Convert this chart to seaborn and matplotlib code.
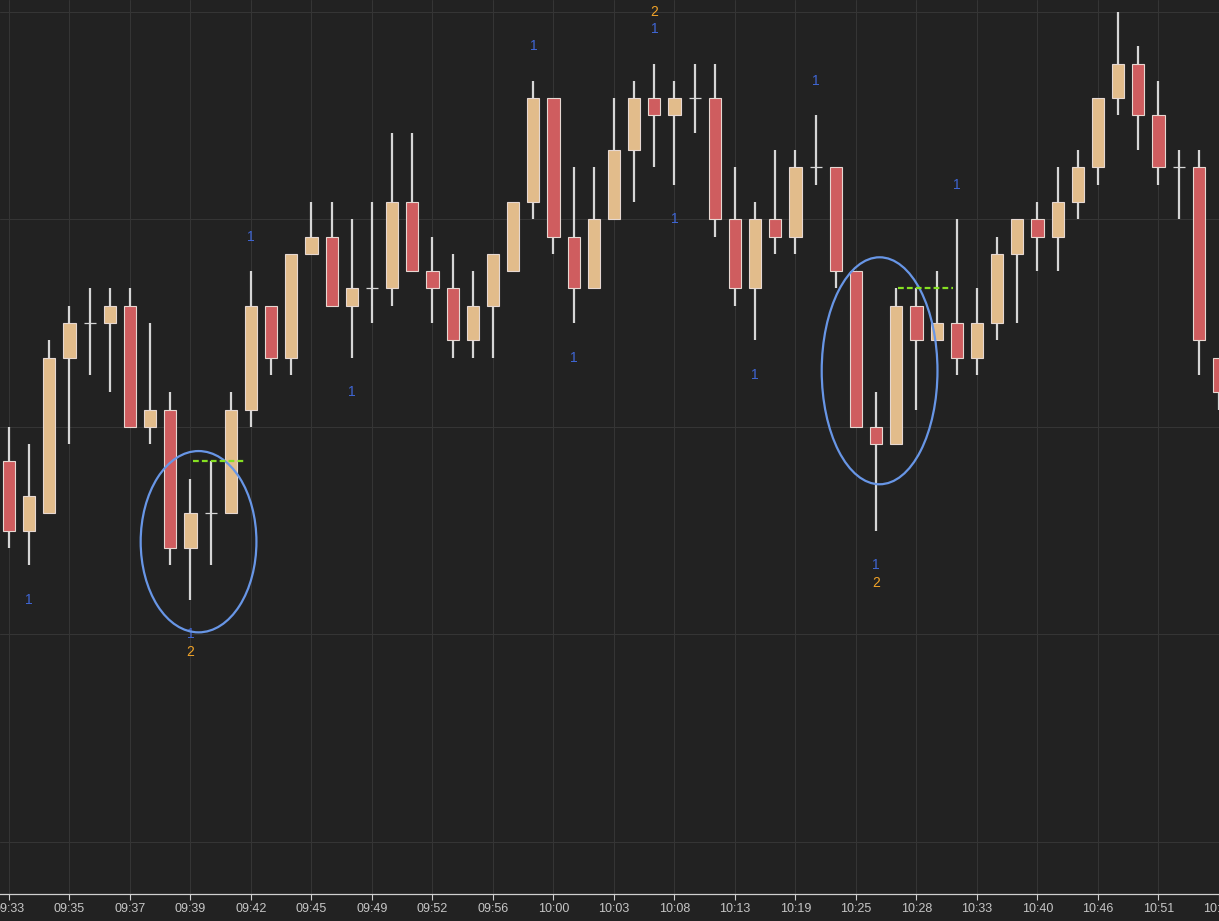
import numpy as np
import pandas as pd
import seaborn as sns
import matplotlib
matplotlib.use("Agg")
import matplotlib.pyplot as plt
from matplotlib.patches import Ellipse

# ---------------- data ----------------
opens = [4405.5, 4404.5, 4404.75, 4407.0, 4407.5, 4407.5, 4407.75, 4406.0, 4406.25, 4404.25,
         4404.75, 4404.75, 4406.25, 4407.75, 4407.0, 4408.5, 4408.75, 4407.75, 4408.0, 4408.0,
         4409.25, 4408.25, 4408.0, 4407.25, 4407.75, 4408.25, 4409.25, 4410.75, 4408.75, 4408.0,
         4409.0, 4410.0, 4410.75, 4410.5, 4410.75, 4410.75, 4409.0, 4408.0, 4409.0, 4408.75,
         4409.75, 4409.75, 4408.25, 4406.0, 4405.75, 4407.75, 4407.25, 4407.5, 4407.0, 4407.5,
         4408.5, 4409.0, 4408.75, 4409.25, 4409.75, 4410.75, 4411.25, 4410.5, 4409.75, 4409.75,
         4407.0]
highs = [4406.0, 4405.75, 4407.25, 4407.75, 4408.0, 4408.0, 4408.0, 4407.5, 4406.5, 4405.25,
         4405.5, 4406.5, 4408.25, 4407.75, 4408.5, 4409.25, 4409.25, 4409.0, 4409.25, 4410.25,
         4410.25, 4408.75, 4408.5, 4408.25, 4408.5, 4409.25, 4411.0, 4410.75, 4409.75, 4409.75,
         4410.75, 4411.0, 4411.25, 4411.0, 4411.25, 4411.25, 4409.75, 4409.25, 4410.0, 4410.0,
         4410.5, 4409.75, 4408.25, 4406.5, 4408.0, 4408.0, 4408.25, 4409.0, 4408.0, 4408.75,
         4409.0, 4409.25, 4409.75, 4410.0, 4410.75, 4412.0, 4411.5, 4411.0, 4410.0, 4410.0,
         4407.0]
lows = [4404.25, 4404.0, 4404.75, 4405.75, 4406.75, 4406.5, 4406.0, 4405.75, 4404.0, 4403.5,
        4404.0, 4404.75, 4406.0, 4406.75, 4406.75, 4408.5, 4407.75, 4407.0, 4407.5, 4407.75,
        4408.25, 4407.5, 4407.0, 4407.0, 4407.0, 4408.25, 4409.0, 4408.5, 4407.5, 4408.0,
        4409.0, 4409.25, 4409.75, 4409.5, 4410.25, 4408.75, 4407.75, 4407.25, 4408.5, 4408.5,
        4409.5, 4408.0, 4406.0, 4404.5, 4405.75, 4406.25, 4407.25, 4406.75, 4406.75, 4407.25,
        4407.5, 4408.25, 4408.25, 4409.0, 4409.5, 4410.5, 4410.0, 4409.5, 4409.0, 4406.75,
        4406.25]
closes = [4404.5, 4405.0, 4407.0, 4407.5, 4407.5, 4407.75, 4406.0, 4406.25, 4404.25, 4404.75,
          4404.75, 4406.25, 4407.75, 4407.0, 4408.5, 4408.75, 4407.75, 4408.0, 4408.0, 4409.25,
          4408.25, 4408.0, 4407.25, 4407.75, 4408.5, 4409.25, 4410.75, 4408.75, 4408.0, 4409.0,
          4410.0, 4410.75, 4410.5, 4410.75, 4410.75, 4409.0, 4408.0, 4409.0, 4408.75, 4409.75,
          4409.75, 4408.25, 4406.0, 4405.75, 4407.75, 4407.25, 4407.5, 4407.0, 4407.5, 4408.5,
          4409.0, 4408.75, 4409.25, 4409.75, 4410.75, 4411.25, 4410.5, 4409.75, 4409.75, 4407.25,
          4406.5]

tick_labels = ["09:33", "09:35", "09:37", "09:39", "09:42", "09:45", "09:49", "09:52", "09:56",
               "10:00", "10:03", "10:08", "10:13", "10:19", "10:25", "10:28", "10:33", "10:40",
               "10:46", "10:51", "10:55"]

# signal markers: bar index, text, price
sig_bar = [1, 9, 9, 12, 17, 26, 28, 32, 32, 33, 37, 40, 43, 43, 47]
sig_text = ["1", "1", "2", "1", "1", "1", "1", "1", "2", "1", "1", "1", "1", "2", "1"]
sig_price = [4403.5, 4403.0, 4402.75, 4408.75, 4406.5, 4411.5, 4407.0, 4411.75, 4412.0,
             4409.0, 4406.75, 4411.0, 4404.0, 4403.75, 4409.5]

# pattern highlights
ell_x = [9.4, 43.17]
ell_y = [4404.34, 4406.81]
ell_h = [2.62, 3.28]
lvl_x0 = [9.1, 44.1]
lvl_x1 = [11.7, 46.8]
lvl_price = [4405.5, 4408.0]

df = pd.DataFrame({"open": opens, "high": highs, "low": lows, "close": closes})
df["idx"] = np.arange(len(df))

# ---------------- style ----------------
BG = "#222222"
sns.set_theme(style="darkgrid", rc={
    "axes.facecolor": BG, "figure.facecolor": BG,
    "grid.color": "#353535", "grid.linewidth": 0.75,
    "axes.edgecolor": "#d0d0d0",
})
plt.rcParams["font.family"] = ["Liberation Sans", "DejaVu Sans"]

fig = plt.figure(figsize=(12.19, 9.21), dpi=100)
ax = fig.add_axes([0, 27 / 921, 1, 894 / 921])
ax.set_facecolor(BG)

UP = "#e2bc8b"
DN = "#cf5d5f"
EDGE = "#e6d8d2"
WICK = "#d6d6d6"
bw = 0.61

ax.vlines(df["idx"], df["low"], df["high"], color=WICK, lw=1.6, zorder=2)
body_lo = np.minimum(df["open"], df["close"])
body_hi = np.maximum(df["open"], df["close"])
hgt = body_hi - body_lo
is_doji = hgt == 0
is_up = df["close"] > df["open"]
colors = [UP if u else DN for u in is_up]
m = ~is_doji
ax.bar(df["idx"][m], hgt[m], bottom=body_lo[m], width=bw,
       color=[c for c, k in zip(colors, m) if k], edgecolor=EDGE, linewidth=0.8, zorder=3)
ax.hlines(df["close"][is_doji], df["idx"][is_doji] - bw / 2, df["idx"][is_doji] + bw / 2,
          color=WICK, lw=0.9, zorder=3)

for b, t, p in zip(sig_bar, sig_text, sig_price):
    ax.text(b, p, t, color="#3f66d4" if t == "1" else "#f0a328", fontsize=10,
            ha="center", va="center", zorder=4)

for x, y, h in zip(ell_x, ell_y, ell_h):
    ax.add_patch(Ellipse((x, y), 5.74, h, fill=False, edgecolor="#6896e6", lw=1.6, zorder=5))
for x0, x1, p in zip(lvl_x0, lvl_x1, lvl_price):
    ax.plot([x0, x1], [p, p], color="#86e022", lw=1.6, ls=(0, (2.6, 1.4)), zorder=5)

ax.set_xlim(-0.4455, 59.9)
ax.set_ylim(4399.249, 4412.168)
ax.set_yticks([4400, 4403, 4406, 4409, 4412])
ax.set_yticklabels([])
ax.tick_params(axis="y", length=0)
ax.set_xticks(np.arange(0, len(df), 3))
ax.set_xticklabels(tick_labels)
ax.tick_params(axis="x", bottom=True, length=4.3, width=0.8, color="#d0d0d0",
               labelcolor="#c6c6c6", labelsize=9, pad=2.5)
for s in ["top", "left", "right"]:
    ax.spines[s].set_visible(False)
ax.spines["bottom"].set_color("#d0d0d0")
ax.spines["bottom"].set_linewidth(0.9)
ax.grid(True, axis="both")
ax.set_xlabel("")
ax.set_ylabel("")

fig.savefig("out.png", dpi=100, facecolor=BG)
